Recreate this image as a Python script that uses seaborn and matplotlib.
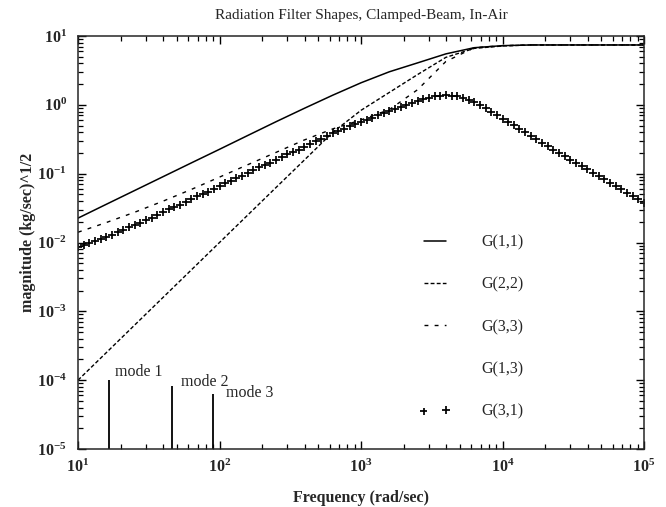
import numpy as np
import matplotlib
matplotlib.use("Agg")
import matplotlib.pyplot as plt
from matplotlib.ticker import FuncFormatter, LogLocator, NullFormatter, FixedLocator
import seaborn as sns

# ---------------- data ----------------
# smooth curves sampled every 0.2 decade from 10 to 1e5 rad/sec
g11 = [0.0226, 0.0359, 0.0569, 0.0902, 0.143, 0.226, 0.359, 0.569, 0.891, 1.38,
       2.09, 3.02, 4.07, 5.50, 6.76, 7.24, 7.41, 7.41, 7.41, 7.41, 7.41]
g22 = [1.00e-4, 2.51e-4, 6.31e-4, 1.585e-3, 3.98e-3, 0.0100, 0.0251, 0.0631, 0.158, 0.398,
       0.832, 1.514, 2.754, 4.898, 6.607, 7.16, 7.41, 7.41, 7.41, 7.41, 7.41]
g33 = [0.0141, 0.0195, 0.0275, 0.0398, 0.0589, 0.0891, 0.135, 0.204, 0.309, 0.447,
       0.603, 0.851, 1.66, 4.27, 6.76, 7.24, 7.41, 7.41, 7.41, 7.41, 7.41]
# G(3,1) markers, 25 per decade from 10 to 1e5 rad/sec
g31 = [0.00851, 0.00912, 0.00977, 0.0105, 0.0112, 0.0120, 0.0129, 0.0141, 0.0151, 0.0166,
       0.0178, 0.0195, 0.0214, 0.0229, 0.0251, 0.0275, 0.0302, 0.0331, 0.0355, 0.0389,
       0.0427, 0.0468, 0.0513, 0.0550, 0.0603, 0.0661, 0.0724, 0.0794, 0.0851, 0.0933,
       0.102, 0.112, 0.123, 0.132, 0.145, 0.158, 0.174, 0.191, 0.204, 0.224,
       0.245, 0.269, 0.295, 0.324, 0.355, 0.389, 0.417, 0.447, 0.490, 0.525,
       0.562, 0.603, 0.646, 0.708, 0.759, 0.813, 0.871, 0.933, 1.000, 1.072,
       1.148, 1.216, 1.274, 1.334, 1.365, 1.380, 1.365, 1.334, 1.274, 1.189,
       1.096, 0.989, 0.891, 0.794, 0.708, 0.631, 0.562, 0.501, 0.447, 0.398,
       0.355, 0.316, 0.282, 0.251, 0.224, 0.200, 0.178, 0.158, 0.145, 0.129,
       0.115, 0.102, 0.0912, 0.0832, 0.0741, 0.0661, 0.0589, 0.0525, 0.0479, 0.0427,
       0.0380]
g13 = []  # listed in the legend only, no visible trace

mode_labels = ["mode 1", "mode 2", "mode 3"]
mode_freq = [16.6, 45.8, 89.7]
mode_height = [1.0e-4, 8.2e-5, 6.2e-5]
mode_text_x = [18.3, 53.5, 111.0]
mode_text_y = [1.31e-4, 9.35e-5, 6.46e-5]

x_ticks = [1e1, 1e2, 1e3, 1e4, 1e5]
y_ticks = [1e-5, 1e-4, 1e-3, 1e-2, 1e-1, 1e0, 1e1]

freq_line = np.logspace(1, 5, len(g11))
freq_mark = np.logspace(1, 5, len(g31))

title = "Radiation Filter Shapes, Clamped-Beam, In-Air"
xlabel = "Frequency (rad/sec)"
ylabel = "magnitude (kg/sec)^1/2"

# ---------------- style ----------------
sns.set_style("ticks")
plt.rcParams["font.family"] = ["Liberation Serif", "DejaVu Serif"]
plt.rcParams["mathtext.fontset"] = "custom"
plt.rcParams["mathtext.rm"] = "Liberation Serif"
plt.rcParams["mathtext.bf"] = "Liberation Serif:bold"
plt.rcParams["axes.linewidth"] = 1.1

fig = plt.figure(figsize=(6.66, 5.07), dpi=100)
ax = fig.add_axes([78 / 666, 58 / 507, 566 / 666, 413 / 507])

sns.lineplot(x=freq_line, y=g11, ax=ax, color="black", lw=1.1,
             linestyle="-", label="G(1,1)", errorbar=None)
sns.lineplot(x=freq_line, y=g22, ax=ax, color="black", lw=1.0,
             linestyle=(0, (2.8, 1.6)), label="G(2,2)", errorbar=None)
sns.lineplot(x=freq_line, y=g33, ax=ax, color="black", lw=1.0,
             linestyle=(0, (2.8, 4.5)), label="G(3,3)", errorbar=None)
ax.plot(g13, g13, linestyle="none", color="black", label="G(1,3)")
sns.scatterplot(x=freq_mark, y=g31, ax=ax, marker="+", color="black",
                s=28, linewidth=1.25, label="G(3,1)")

ax.vlines(mode_freq, 1e-5, mode_height, colors="black", lw=1.3)
for lab, tx, ty in zip(mode_labels, mode_text_x, mode_text_y):
    ax.text(tx, ty, lab, fontsize=11.5, ha="left", va="center")

ax.set_xscale("log")
ax.set_yscale("log")
ax.set_xlim(10, 1e5)
ax.set_ylim(1e-5, 10)

fmt = FuncFormatter(lambda v, p: r"$\mathbf{10^{%d}}$" % int(round(np.log10(v))))
ax.xaxis.set_major_locator(FixedLocator(x_ticks))
ax.yaxis.set_major_locator(FixedLocator(y_ticks))
ax.xaxis.set_minor_locator(LogLocator(base=10, subs=np.arange(2, 10), numticks=20))
ax.yaxis.set_minor_locator(LogLocator(base=10, subs=np.arange(2, 10), numticks=20))
ax.xaxis.set_major_formatter(fmt)
ax.yaxis.set_major_formatter(fmt)
ax.xaxis.set_minor_formatter(NullFormatter())
ax.yaxis.set_minor_formatter(NullFormatter())
ax.tick_params(which="both", direction="in", top=True, right=True, color="black")
ax.tick_params(which="major", length=6, width=1.0, labelsize=11.5)
ax.tick_params(which="minor", length=3.5, width=0.9)
ax.tick_params(axis="x", which="major", pad=7)
ax.tick_params(axis="y", which="major", pad=8)

ax.set_title(title, fontsize=11, pad=12)
ax.set_xlabel(xlabel, fontsize=11.5, fontweight="bold", labelpad=10)
ax.set_ylabel(ylabel, fontsize=11.5, fontweight="bold")
ax.yaxis.set_label_coords(-0.075, 0.525)

handles, labels = ax.get_legend_handles_labels()
order = ["G(1,1)", "G(2,2)", "G(3,3)", "G(1,3)", "G(3,1)"]
hmap = dict(zip(labels, handles))
ax.legend([hmap[k] for k in order], order, loc="upper left",
          bbox_to_anchor=(0.6025, 0.52), frameon=False, fontsize=11.5,
          handlelength=2.0, handletextpad=1.9, labelspacing=1.65,
          borderpad=0, borderaxespad=0, scatterpoints=2, numpoints=2)

fig.savefig("out.png", dpi=100)
